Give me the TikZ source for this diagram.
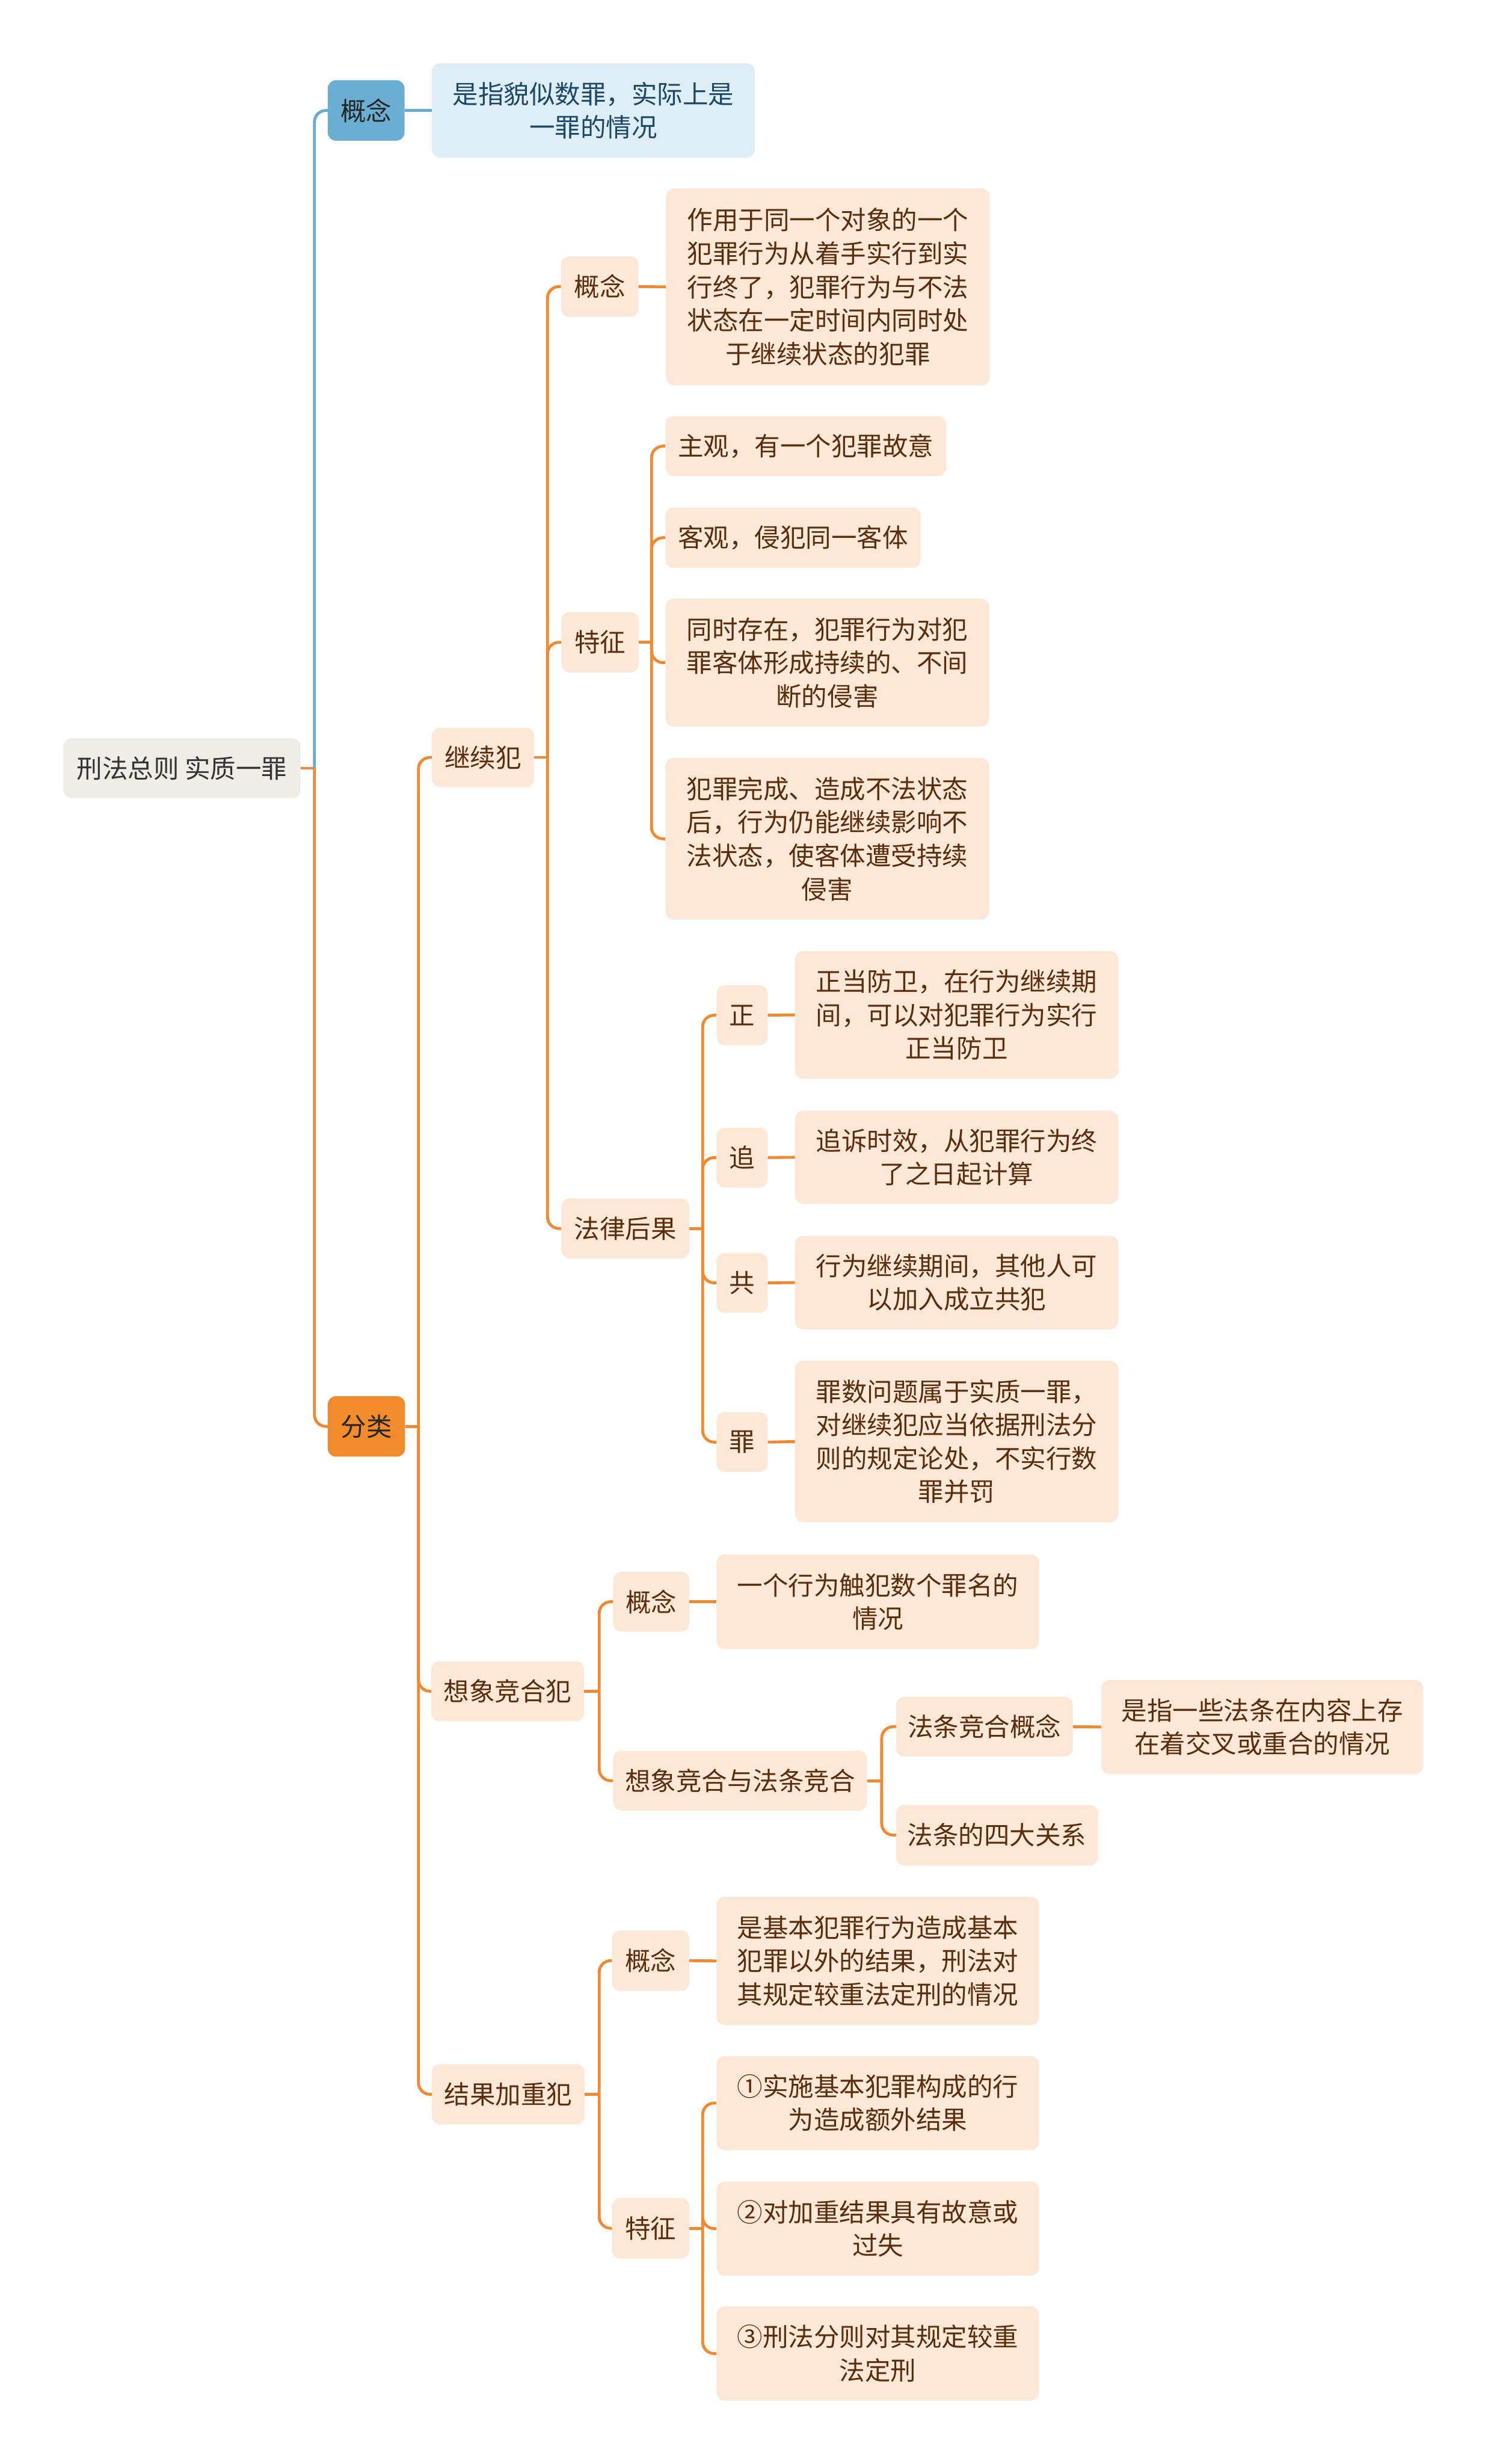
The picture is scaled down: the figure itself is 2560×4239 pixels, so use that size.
\documentclass[tikz,border=0pt]{standalone}
\usepackage{fontspec}
\newfontfamily\cjk{Noto Sans CJK SC}
\definecolor{ln}{HTML}{EE8A33}
\definecolor{blueln}{HTML}{6AABCD}
\definecolor{ltbox}{HTML}{FDE7D6}
\definecolor{txtc}{HTML}{5A2D0C}
\definecolor{bluebox}{HTML}{6AAED3}
\definecolor{bluelt}{HTML}{DEEEF7}
\definecolor{bluetxt}{HTML}{1C4866}
\definecolor{orbox}{HTML}{F18B2B}
\definecolor{rootbox}{HTML}{EEEEE6}
\tikzset{
  base/.style={rounded corners=14pt, inner sep=0pt, align=center,
    font=\cjk\fontsize{44}{57.5}\selectfont},
  sz/.style 2 args={minimum width=#1pt, minimum height=#2pt},
  lt/.style={base, fill=ltbox, text=txtc},
  rootn/.style={base, fill=rootbox, text=black!80},
  bluen/.style={base, fill=bluebox, text=black!85},
  bluelight/.style={base, fill=bluelt, text=bluetxt},
  orn/.style={base, fill=orbox, text=black!85},
  con/.style={draw=ln, line width=5pt, rounded corners=20pt},
  bcon/.style={draw=blueln, line width=5pt, rounded corners=20pt},
}
\begin{document}
\begin{tikzpicture}[x=1pt, y=-1pt]
\useasboundingbox (0,0) rectangle (2560,4239);
% nodes
\node[rootn, sz={408}{103}] (root) at (313,1321.5) {刑法总则 实质一罪};
\node[bluen, sz={132}{104}] (gn) at (630,190) {概念};
\node[bluelight, sz={556}{162}] (gnt) at (1021,190) {是指貌似数罪，实际上是\\一罪的情况};
\node[orn, sz={133}{104}] (fl) at (630.5,2454) {分类};

\node[lt, sz={176}{102}] (jx) at (831,1303) {继续犯};
\node[lt, sz={263}{103}] (xx) at (873.5,2909.5) {想象竞合犯};
\node[lt, sz={263}{104}] (jg) at (874.5,3603) {结果加重犯};

\node[lt, sz={133}{104}] (jxgn) at (1032,493) {概念};
\node[lt, sz={557}{339}] (jxgnt) at (1424.5,493.5) {作用于同一个对象的一个\\犯罪行为从着手实行到实\\行终了，犯罪行为与不法\\状态在一定时间内同时处\\于继续状态的犯罪};
\node[lt, sz={133}{104}] (jxtz) at (1032.5,1105) {特征};
\node[lt, sz={483}{103}] (zg) at (1386.5,767.5) {主观，有一个犯罪故意};
\node[lt, sz={439}{104}] (kg) at (1364.5,925) {客观，侵犯同一客体};
\node[lt, sz={557}{220}] (ts) at (1423.5,1140) {同时存在，犯罪行为对犯\\罪客体形成持续的、不间\\断的侵害};
\node[lt, sz={557}{278}] (fz) at (1423.5,1443) {犯罪完成、造成不法状态\\后，行为仍能继续影响不\\法状态，使客体遭受持续\\侵害};
\node[lt, sz={220}{103}] (fh) at (1076,2113.5) {法律后果};
\node[lt, sz={88}{103}] (zh) at (1277,1746.5) {正};
\node[lt, sz={556}{220}] (zht) at (1646,1746) {正当防卫，在行为继续期\\间，可以对犯罪行为实行\\正当防卫};
\node[lt, sz={88}{103}] (zu) at (1277,1991.5) {追};
\node[lt, sz={556}{160}] (zut) at (1646,1991) {追诉时效，从犯罪行为终\\了之日起计算};
\node[lt, sz={88}{103}] (gg) at (1277,2207) {共};
\node[lt, sz={556}{161}] (ggt) at (1646,2206.5) {行为继续期间，其他人可\\以加入成立共犯};
\node[lt, sz={88}{103}] (zz) at (1277,2481) {罪};
\node[lt, sz={556}{278}] (zzt) at (1646,2480) {罪数问题属于实质一罪，\\对继续犯应当依据刑法分\\则的规定论处，不实行数\\罪并罚};

\node[lt, sz={131}{103}] (xxgn) at (1120.5,2755.5) {概念};
\node[lt, sz={555}{163}] (xxgnt) at (1510.5,2755.5) {一个行为触犯数个罪名的\\情况};
\node[lt, sz={437}{103}] (xf) at (1273.5,3063.5) {想象竞合与法条竞合};
\node[lt, sz={304}{103}] (ftgn) at (1694,2970.5) {法条竞合概念};
\node[lt, sz={554}{162}] (ftgnt) at (2172,2971) {是指一些法条在内容上存\\在着交叉或重合的情况};
\node[lt, sz={347}{104}] (ftgx) at (1715.5,3157) {法条的四大关系};

\node[lt, sz={133}{104}] (jggn) at (1119.5,3373) {概念};
\node[lt, sz={555}{221}] (jggnt) at (1510.5,3373.5) {是基本犯罪行为造成基本\\犯罪以外的结果，刑法对\\其规定较重法定刑的情况};
\node[lt, sz={133}{104}] (jgtz) at (1119.5,3833.5) {特征};
\node[lt, sz={555}{162}] (t1) at (1510.5,3618) {①实施基本犯罪构成的行\\为造成额外结果};
\node[lt, sz={555}{162}] (t2) at (1510.5,3834) {②对加重结果具有故意或\\过失};
\node[lt, sz={555}{162}] (t3) at (1510.5,4049) {③刑法分则对其规定较重\\法定刑};

% connectors
\coordinate (r0) at (541,1321.5);
\draw[con] (root.east) -- (r0);
\draw[bcon] (r0) |- (gn.west);
\draw[con] (r0) |- (fl.west);
\draw[bcon] (gn.east) -- (gnt.west);

\coordinate (f0) at (720,2454);
\draw[con] (fl.east) -- (f0);
\foreach \c in {jx,xx,jg} \draw[con] (f0) |- (\c.west);

\coordinate (j0) at (942,1303);
\draw[con] (jx.east) -- (j0);
\foreach \c in {jxgn,jxtz,fh} \draw[con] (j0) |- (\c.west);
\draw[con] (jxgn.east) -- (jxgnt.west);

\coordinate (t0) at (1121,1105);
\draw[con] (jxtz.east) -- (t0);
\foreach \c in {zg,kg,ts,fz} \draw[con] (t0) |- (\c.west);

\coordinate (h0) at (1209,2113.5);
\draw[con] (fh.east) -- (h0);
\foreach \c in {zh,zu,gg,zz} \draw[con] (h0) |- (\c.west);
\draw[con] (zh.east) -- (zht.west);
\draw[con] (zu.east) -- (zut.west);
\draw[con] (gg.east) -- (ggt.west);
\draw[con] (zz.east) -- (zzt.west);

\coordinate (x0) at (1031,2909.5);
\draw[con] (xx.east) -- (x0);
\foreach \c in {xxgn,xf} \draw[con] (x0) |- (\c.west);
\draw[con] (xxgn.east) -- (xxgnt.west);

\coordinate (q0) at (1517,3063.5);
\draw[con] (xf.east) -- (q0);
\foreach \c in {ftgn,ftgx} \draw[con] (q0) |- (\c.west);
\draw[con] (ftgn.east) -- (ftgnt.west);

\coordinate (g0) at (1031,3603);
\draw[con] (jg.east) -- (g0);
\foreach \c in {jggn,jgtz} \draw[con] (g0) |- (\c.west);
\draw[con] (jggn.east) -- (jggnt.west);

\coordinate (s0) at (1209,3833.5);
\draw[con] (jgtz.east) -- (s0);
\foreach \c in {t1,t2,t3} \draw[con] (s0) |- (\c.west);
\end{tikzpicture}
\end{document}
